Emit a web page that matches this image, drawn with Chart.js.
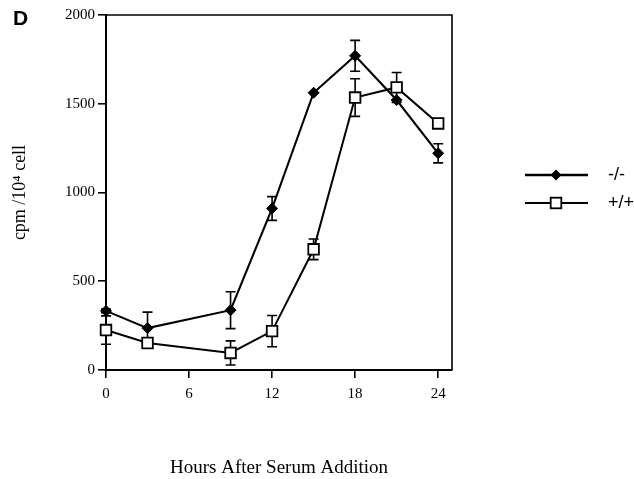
<!DOCTYPE html>
<html><head><meta charset="utf-8">
<script src="https://cdn.jsdelivr.net/npm/chart.js@4/dist/chart.umd.min.js"></script>
<style>html,body{margin:0;padding:0;background:#fff}#wrap{width:634px;height:479px;position:relative}</style>
</head><body><div id="wrap"><canvas id="c" width="634" height="479"></canvas></div>
<script>
const panelLabel = 'D';
const hours = [0, 3, 9, 12, 15, 18, 21, 24];
const seriesNames = ['-/-', '+/+'];
const knockout = [333, 236, 337, 910, 1562, 1770, 1521, 1221];
const knockoutErr = [10, 90, 104, 67, 0, 87, 0, 54];
const wildtype = [225, 152, 96, 219, 680, 1535, 1592, 1389];
const wildtypeErr = [80, 15, 68, 88, 58, 106, 84, 0];
const xTicks = [0, 6, 12, 18, 24];
const yTicks = [0, 500, 1000, 1500, 2000];
const xTitle = 'Hours After Serum Addition';
const yTitle = 'cpm /10\u2074 cell';

const serif = "'Liberation Serif', 'Times New Roman', serif";
const sans = "'Liberation Sans', Arial, sans-serif";
const errs = [knockoutErr, wildtypeErr];

const toPts = (ys) => hours.map((h, i) => ({x: h, y: ys[i]}));

const errorBars = {
  id: 'errorBars',
  beforeDatasetsDraw(chart) {
    const ctx = chart.ctx, xs = chart.scales.x, ys = chart.scales.y;
    chart.data.datasets.forEach((ds, di) => {
      const e = errs[di];
      ctx.save();
      ctx.strokeStyle = '#000';
      ctx.lineWidth = 1.6;
      ds.data.forEach((p, i) => {
        if (!e[i]) return;
        const x = xs.getPixelForValue(p.x);
        const y1 = ys.getPixelForValue(p.y + e[i]);
        const y2 = ys.getPixelForValue(p.y - e[i]);
        ctx.beginPath();
        ctx.moveTo(x, y1); ctx.lineTo(x, y2);
        ctx.moveTo(x - 5, y1); ctx.lineTo(x + 5, y1);
        ctx.moveTo(x - 5, y2); ctx.lineTo(x + 5, y2);
        ctx.stroke();
      });
      ctx.restore();
    });
  }
};

const decor = {
  id: 'decor',
  afterDraw(chart) {
    const ctx = chart.ctx, a = chart.chartArea;
    ctx.save();
    ctx.strokeStyle = '#000';
    ctx.lineWidth = 1.6;
    ctx.beginPath();
    ctx.moveTo(a.left, a.top); ctx.lineTo(a.right, a.top); ctx.lineTo(a.right, a.bottom);
    ctx.stroke();
    ctx.fillStyle = '#000';
    ctx.font = "bold 21px " + sans;
    ctx.textBaseline = 'alphabetic';
    ctx.textAlign = 'left';
    ctx.fillText(panelLabel, 13, 25);
    const lx1 = 525, lx2 = 588, mx = 556, rows = [175, 203];
    chart.data.datasets.forEach((ds, i) => {
      const y = rows[i];
      ctx.strokeStyle = '#000';
      ctx.lineWidth = i === 0 ? 2.6 : 2;
      ctx.beginPath(); ctx.moveTo(lx1, y); ctx.lineTo(lx2, y); ctx.stroke();
      if (i === 0) {
        const r = 5.5;
        ctx.beginPath();
        ctx.moveTo(mx, y - r); ctx.lineTo(mx + r, y); ctx.lineTo(mx, y + r); ctx.lineTo(mx - r, y);
        ctx.closePath(); ctx.fillStyle = '#000'; ctx.fill();
      } else {
        const s = 5.3;
        ctx.fillStyle = '#fff';
        ctx.fillRect(mx - s, y - s, 2 * s, 2 * s);
        ctx.lineWidth = 1.8;
        ctx.strokeRect(mx - s, y - s, 2 * s, 2 * s);
      }
      ctx.fillStyle = '#000';
      ctx.font = "18px " + sans;
      ctx.textBaseline = 'middle';
      ctx.fillText(ds.label, 608, y);
    });
    ctx.restore();
  }
};

new Chart(document.getElementById('c'), {
  type: 'line',
  data: {
    datasets: [
      {label: seriesNames[0], data: toPts(knockout), borderColor: '#000', borderWidth: 2.1,
       pointStyle: 'rectRot', pointRadius: 5.5, backgroundColor: '#000', pointBackgroundColor: '#000',
       pointBorderColor: '#000', pointBorderWidth: 1, tension: 0, clip: false, fill: false},
      {label: seriesNames[1], data: toPts(wildtype), borderColor: '#000', borderWidth: 2,
       pointStyle: 'rect', pointRadius: 7.5, backgroundColor: '#fff', pointBackgroundColor: '#fff',
       pointBorderColor: '#000', pointBorderWidth: 1.8, tension: 0, clip: false, fill: false}
    ]
  },
  options: {
    responsive: false,
    devicePixelRatio: 1,
    animation: false,
    layout: {padding: {left: 0, right: 182, top: 15, bottom: 0}},
    plugins: {legend: {display: false}, tooltip: {enabled: false}},
    scales: {
      x: {
        type: 'linear', min: 0, max: 25,
        afterBuildTicks: (s) => { s.ticks = xTicks.map(v => ({value: v})); },
        afterFit: (s) => { s.height = 109; },
        grid: {display: true, drawOnChartArea: false, drawTicks: true, tickLength: 8, color: '#000', lineWidth: 1.6},
        border: {display: true, color: '#000', width: 2},
        ticks: {color: '#000', font: {family: serif, size: 15}, padding: 7, maxRotation: 0,
                callback: (v) => String(v)},
        title: {display: true, text: xTitle, color: '#000', font: {family: serif, size: 19, lineHeight: 1.2}, padding: {top: 0, bottom: 0}}
      },
      y: {
        type: 'linear', min: 0, max: 2000,
        afterBuildTicks: (s) => { s.ticks = yTicks.map(v => ({value: v})); },
        afterFit: (s) => { s.width = 106; },
        grid: {display: true, drawOnChartArea: false, drawTicks: true, tickLength: 8, color: '#000', lineWidth: 1.6},
        border: {display: true, color: '#000', width: 2},
        ticks: {color: '#000', font: {family: serif, size: 15}, padding: 3,
                callback: (v) => String(v)},
        title: {display: true, text: yTitle, color: '#000', font: {family: serif, size: 18, lineHeight: 1.2}, padding: {top: 9, bottom: 0}}
      }
    }
  },
  plugins: [errorBars, decor]
});
</script>
</body></html>
